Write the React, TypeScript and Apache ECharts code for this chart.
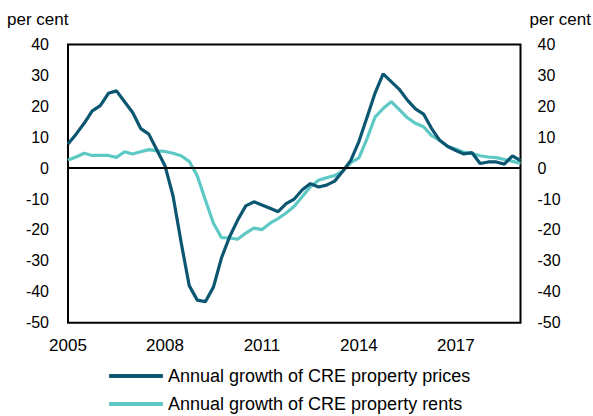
import React, { useEffect, useRef } from "react";
import * as echarts from "echarts";

const quarters: string[] = [];
for (let y = 2005; y <= 2018; y++) {
  for (let q = 1; q <= 4; q++) quarters.push(`${y}Q${q}`);
}
quarters.push("2019Q1");

const prices = [
  7.8, 11.0, 14.5, 18.5, 20.2, 24.2, 25.0, 21.5, 18.0, 12.8,
  11.0, 5.9, 0.8, -9.0, -24.0, -38.0, -42.7, -43.2, -38.5, -29.0,
  -22.2, -16.8, -12.2, -10.9, -11.9, -13.0, -14.1, -11.5, -10.0, -7.0,
  -5.0, -6.1, -5.5, -4.2, -1.0, 2.5, 8.6, 16.4, 24.3, 30.5,
  28.0, 25.5, 22.0, 19.2, 17.5, 12.8, 9.0, 7.0, 5.7, 4.6,
  5.0, 1.5, 2.0, 2.0, 1.3, 4.0, 2.4,
];

const rents = [
  2.6, 3.6, 4.8, 4.1, 4.1, 4.1, 3.5, 5.3, 4.6, 5.3,
  6.0, 5.6, 5.4, 4.8, 4.0, 2.2, -2.5, -10.3, -17.8, -22.5,
  -22.6, -23.0, -21.0, -19.4, -19.9, -17.8, -16.3, -14.5, -12.3, -9.2,
  -6.0, -3.9, -3.1, -2.4, -1.0, 1.8, 3.3, 9.5, 16.5, 19.3,
  21.5, 18.9, 16.3, 14.5, 13.4, 10.5, 9.0, 7.0, 6.2, 5.1,
  4.7, 4.0, 3.6, 3.4, 2.8, 2.2, 1.6,
];

const seriesNames = [
  "Annual growth of CRE property prices",
  "Annual growth of CRE property rents",
];

const FONT = "Liberation Sans";

export default function App() {
  const ref = useRef<HTMLDivElement>(null);
  useEffect(() => {
    document.body.style.margin = "0";
    if (!ref.current) return;
    const chart = echarts.init(ref.current, undefined, { renderer: "svg" });
    const yAxisBase = {
      type: "value" as const,
      min: -50,
      max: 40,
      interval: 10,
      splitLine: { show: false },
      axisTick: { show: false },
      axisLine: { show: false },
      axisLabel: { color: "#000", fontSize: 16, fontFamily: FONT },
    };
    const legendBase = {
      left: 109,
      itemWidth: 54,
      itemHeight: 4,
      icon: "roundRect",
      textStyle: { color: "#000", fontSize: 18, fontFamily: FONT },
      padding: 0,
    };
    chart.setOption({
      animation: false,
      grid: {
        left: 68,
        right: 72.5,
        top: 44.5,
        bottom: 93.3,
        show: true,
        borderColor: "#000",
        borderWidth: 2,
        backgroundColor: "transparent",
      },
      xAxis: {
        type: "category",
        data: quarters,
        boundaryGap: false,
        axisLine: { show: false },
        axisTick: { show: false },
        splitLine: { show: false },
        axisLabel: {
          interval: (i: number) => i % 12 === 0,
          formatter: (v: string) => v.slice(0, 4),
          color: "#000",
          fontSize: 17,
          fontFamily: FONT,
          margin: 14,
        },
      },
      yAxis: [
        { ...yAxisBase, position: "left", axisLabel: { ...yAxisBase.axisLabel, margin: 19 } },
        { ...yAxisBase, position: "right", axisLabel: { ...yAxisBase.axisLabel, margin: 17 } },
      ],
      legend: [
        { ...legendBase, top: 367, data: [seriesNames[0]] },
        { ...legendBase, top: 395, data: [seriesNames[1]] },
      ],
      graphic: [
        {
          type: "text",
          left: 7,
          top: 11,
          style: { text: "per cent", fontSize: 17, fontFamily: FONT, fill: "#000" },
        },
        {
          type: "text",
          right: 2,
          top: 11,
          style: { text: "per cent", fontSize: 17, fontFamily: FONT, fill: "#000" },
        },
      ],
      series: [
        {
          name: seriesNames[1],
          type: "line",
          data: rents,
          showSymbol: false,
          lineStyle: { color: "#5ec9c4", width: 3.2 },
          itemStyle: { color: "#5ec9c4" },
          z: 2,
          markLine: {
            silent: true,
            symbol: "none",
            label: { show: false },
            lineStyle: { color: "#000", width: 2, type: "solid" },
            data: [{ yAxis: 0 }],
          },
        },
        {
          name: seriesNames[0],
          type: "line",
          data: prices,
          showSymbol: false,
          lineStyle: { color: "#0b5670", width: 3.2 },
          itemStyle: { color: "#0b5670" },
          z: 3,
        },
      ],
    });
    return () => chart.dispose();
  }, []);
  return <div ref={ref} style={{ width: 593, height: 416 }} />;
}
